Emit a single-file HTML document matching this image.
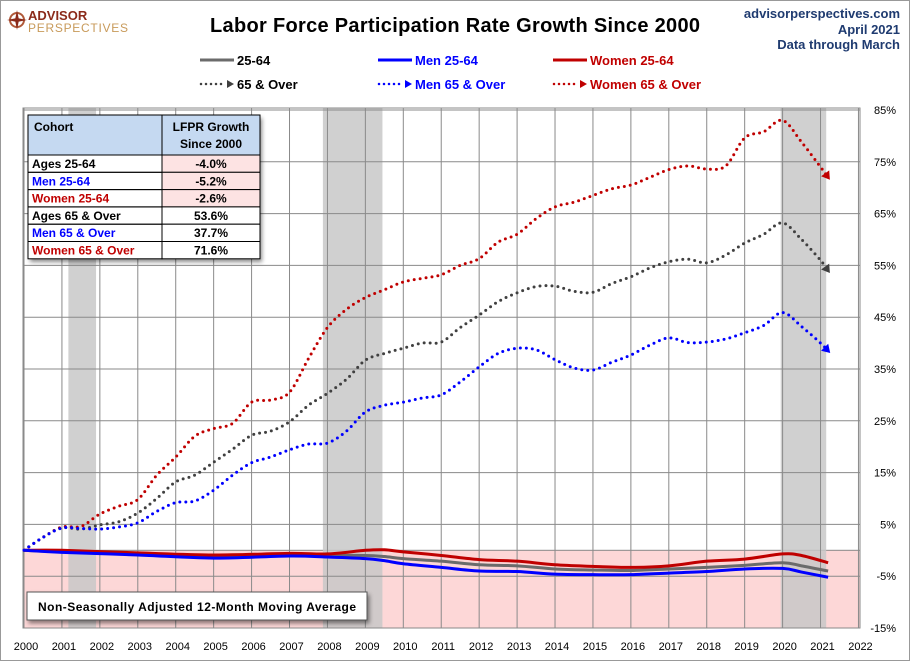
<!DOCTYPE html>
<html><head><meta charset="utf-8"><style>
body{margin:0;background:#fff}
svg text{font-family:"Liberation Sans",sans-serif}
</style></head><body>
<svg id="chart" width="910" height="661" viewBox="0 0 910 661" xmlns="http://www.w3.org/2000/svg">
<defs>
<filter id="sh" x="-10%" y="-10%" width="130%" height="140%"><feDropShadow dx="2" dy="3" stdDeviation="2" flood-color="#000" flood-opacity="0.45"/></filter>
</defs>
<rect x="0.5" y="0.5" width="909" height="660" fill="#fff" stroke="#999"/>
<g id="plot"></g>
<g>
<circle cx="17" cy="20" r="7" fill="none" stroke="#b05a3a" stroke-width="2"/>
<path d="M17 10 L19 20 L17 30 L15 20 Z M7 20 L17 18 L27 20 L17 22 Z" fill="#8b2a1a"/>
<text x="28" y="20" font-size="13" font-weight="bold" fill="#8b2a1a">ADVISOR</text>
<text x="28" y="32" font-size="12" fill="#c89a5a" textLength="100">PERSPECTIVES</text>
</g>
<text x="455" y="32" font-size="20" font-weight="bold" text-anchor="middle" fill="#000" textLength="490">Labor Force Participation Rate Growth Since 2000</text>
<g font-size="13" font-weight="bold" fill="#1f3b70" text-anchor="end">
<text x="900" y="18">advisorperspectives.com</text>
<text x="900" y="34">April 2021</text>
<text x="900" y="49">Data through March</text>
</g>
<g id="legend" font-size="13" font-weight="bold">
<g><line x1="200" y1="60" x2="234" y2="60" stroke="#6b6b6b" stroke-width="3"/><text x="237" y="65" fill="#000">25-64</text></g>
<g><line x1="378" y1="60" x2="412" y2="60" stroke="#0000ff" stroke-width="3"/><text x="415" y="65" fill="#0000ff">Men 25-64</text></g>
<g><line x1="553" y1="60" x2="587" y2="60" stroke="#c00000" stroke-width="3"/><text x="590" y="65" fill="#c00000">Women 25-64</text></g>
<g><line x1="201" y1="84" x2="226" y2="84" stroke="#404040" stroke-width="2.5" stroke-dasharray="0 5" stroke-linecap="round"/><path d="M227 80 L234 84 L227 88Z" fill="#404040"/><text x="237" y="89" fill="#000">65 &amp; Over</text></g>
<g><line x1="379" y1="84" x2="404" y2="84" stroke="#0000ff" stroke-width="2.5" stroke-dasharray="0 5" stroke-linecap="round"/><path d="M405 80 L412 84 L405 88Z" fill="#0000ff"/><text x="415" y="89" fill="#0000ff">Men 65 &amp; Over</text></g>
<g><line x1="554" y1="84" x2="579" y2="84" stroke="#c00000" stroke-width="2.5" stroke-dasharray="0 5" stroke-linecap="round"/><path d="M580 80 L587 84 L580 88Z" fill="#c00000"/><text x="590" y="89" fill="#c00000">Women 65 &amp; Over</text></g>
</g>
<g id="table" font-size="12" font-weight="bold">
<rect x="28" y="115" width="232" height="144" fill="#fff" filter="url(#sh)"/>
<rect x="28" y="115" width="232" height="40" fill="#c5d9f1" stroke="#000"/>
<line x1="162" y1="115" x2="162" y2="259" stroke="#000"/>
<text x="34" y="131" fill="#000">Cohort</text>
<text x="211" y="131" text-anchor="middle" fill="#000">LFPR Growth</text>
<text x="211" y="148" text-anchor="middle" fill="#000">Since 2000</text>
</g>
<g>
<rect x="27" y="592" width="340" height="28" fill="#fff" stroke="#555" filter="url(#sh)"/>
<text x="197" y="611" font-size="12" font-weight="bold" text-anchor="middle" textLength="318" fill="#000">Non-Seasonally Adjusted 12-Month Moving Average</text>
</g>
</svg>
<script>
const years = [2000,2001,2002,2003,2004,2005,2006,2007,2008,2009,2010,2011,2012,2013,2014,2015,2016,2017,2018,2019,2020,2021,2022];
const yTicks = [85,75,65,55,45,35,25,15,5,-5,-15];
const recessions = [[2001.17,2001.9],[2007.88,2009.45],[2019.95,2021.15]];
const tHalf = [2000,2000.5,2001,2001.5,2002,2002.5,2003,2003.5,2004,2004.5,2005,2005.5,2006,2006.5,2007,2007.5,2008,2008.5,2009,2009.5,2010,2010.5,2011,2011.5,2012,2012.5,2013,2013.5,2014,2014.5,2015,2015.5,2016,2016.5,2017,2017.5,2018,2018.5,2019,2019.5,2020,2020.5,2021,2021.2];
const women65 = [0,2.5,4.5,4.6,7,8.5,9.8,14.5,18,22,23.5,24.5,28.6,29,30.5,37,43,46.5,48.8,50.3,51.8,52.5,53.2,55,56.3,59.5,61,64,66.3,67.2,68.5,69.8,70.5,72,73.5,74.2,73.6,74.2,79.6,80.8,83,78.8,74,72];
const all65 = [0,2.5,4.3,4.1,4.9,5.5,7.2,10,13.2,14.5,17,19.5,22.2,23,24.8,28,30.3,33,36.7,38,39,40,40.2,43,45.4,48,49.7,50.9,51,50,49.8,51.5,52.8,54.5,55.7,56.2,55.5,57,59.3,61,63.2,60,56,54];
const men65 = [0,2.5,4.3,4.2,4.1,4.5,5.3,7.5,9.2,9.5,11.6,14.5,16.9,18,19.4,20.5,20.7,23,26.7,28,28.6,29.4,30,32.5,35.4,38,39,38.7,36.8,35.2,34.8,36.3,37.7,39.6,41,40.1,40.2,40.8,42,43.4,45.9,43.2,40,38.5];
const tYear = [2000,2001,2003,2005,2007,2008,2009,2009.5,2010,2011,2012,2013,2014,2015,2016,2017,2018,2019,2020,2020.5,2021.2];
const women2564 = [0,0,-0.5,-0.9,-0.6,-0.7,0,0.1,-0.3,-1.0,-1.8,-2.1,-2.8,-3.1,-3.3,-3.0,-2.1,-1.7,-0.7,-1.0,-2.4];
const all2564 = [0,-0.3,-0.7,-1.2,-0.9,-1.0,-1.0,-1.2,-1.6,-2.1,-2.8,-3.0,-3.6,-3.8,-3.9,-3.6,-3.3,-2.9,-2.4,-3.0,-4.0];
const men2564 = [0,-0.4,-0.9,-1.5,-1.1,-1.3,-1.6,-2.0,-2.6,-3.3,-4.0,-4.1,-4.6,-4.7,-4.7,-4.4,-4.1,-3.6,-3.5,-4.2,-5.2];
const cohorts = ["Ages 25-64","Men 25-64","Women 25-64","Ages 65  & Over","Men 65  & Over","Women 65 & Over"];
const growth = ["-4.0%","-5.2%","-2.6%","53.6%","37.7%","71.6%"];
const cohortColors = ["#000","#0000ff","#c00000","#000","#0000ff","#c00000"];

const NS="http://www.w3.org/2000/svg";
const L=23,R=860,T=108,B=628;
const x = t => 24 + (t-2000)*37.93;
const y = v => 550.3 - v*5.18;
function mk(tag,attrs,parent){const e=document.createElementNS(NS,tag);for(const k in attrs)e.setAttribute(k,attrs[k]);parent.appendChild(e);return e;}
const plot=document.getElementById('plot');
const bg=mk('rect',{x:L,y:T,width:R-L,height:B-T,fill:'#fff'},plot);


const neg=mk('rect',{x:L,y:y(0),width:R-L,height:B-y(0),fill:'#fdd7d7',stroke:'#888','stroke-width':1},plot);


recessions.forEach(r=>{
  const e=mk('rect',{x:x(r[0]),y:T,width:x(r[1])-x(r[0]),height:B-T,fill:'#c8c8c8','fill-opacity':0.85},plot);
  
  
});
years.forEach(yr=>{
  const g=mk('line',{x1:x(yr),x2:x(yr),y1:T,y2:B,stroke:'#8a8a8a','stroke-width':1},plot);
  
  
  const t=mk('text',{x:x(yr)+2,y:650,'font-size':11,'text-anchor':'middle',fill:'#000'},plot);
  t.textContent=yr;
  
  
});
yTicks.forEach(v=>{
  const g=mk('line',{x1:L,x2:R,y1:y(v),y2:y(v),stroke:'#8a8a8a','stroke-width':1},plot);
  
  
  const t=mk('text',{x:896,y:y(v)+4,'font-size':11,'text-anchor':'end',fill:'#000'},plot);
  t.textContent=v+'%';
  
  
});
mk('rect',{x:L,y:T,width:R-L,height:B-T,fill:'none',stroke:'#8a8a8a'},plot);
function pathD(ts,vs){
  const p=ts.map((t,i)=>[x(t),y(vs[i])]);
  let d='M'+p[0][0]+' '+p[0][1];
  for(let i=0;i<p.length-1;i++){
    const p0=p[Math.max(0,i-1)],p1=p[i],p2=p[i+1],p3=p[Math.min(p.length-1,i+2)];
    const c1=[p1[0]+(p2[0]-p0[0])/6,p1[1]+(p2[1]-p0[1])/6];
    const c2=[p2[0]-(p3[0]-p1[0])/6,p2[1]-(p3[1]-p1[1])/6];
    d+=` C${c1[0]} ${c1[1]} ${c2[0]} ${c2[1]} ${p2[0]} ${p2[1]}`;
  }
  return d;
}
function solid(ts,vs,color,name){
  const e=mk('path',{d:pathD(ts,vs),fill:'none',stroke:color,'stroke-width':3,'stroke-linejoin':'round'},plot);
  
  
}
function dotted(ts,vs,color,name){
  const e=mk('path',{d:pathD(ts,vs),fill:'none',stroke:color,'stroke-width':3,'stroke-dasharray':'0 6','stroke-linecap':'round'},plot);
  
  
  const n=ts.length;
  const x1=x(ts[n-2]),y1=y(vs[n-2]),x2=x(ts[n-1]),y2=y(vs[n-1]);
  const a=Math.atan2(y2-y1,x2-x1),s=8;
  const tip=[x2+Math.cos(a)*3,y2+Math.sin(a)*3];
  const b1=[tip[0]-s*Math.cos(a)+5*Math.sin(a),tip[1]-s*Math.sin(a)-5*Math.cos(a)];
  const b2=[tip[0]-s*Math.cos(a)-5*Math.sin(a),tip[1]-s*Math.sin(a)+5*Math.cos(a)];
  const ar=mk('path',{d:`M${tip[0]} ${tip[1]} L${b1[0]} ${b1[1]} L${b2[0]} ${b2[1]}Z`,fill:color},plot);
  
  
}
solid(tYear,all2564,'#6b6b6b','line-ages-25-64');
solid(tYear,women2564,'#c00000','line-women-25-64');
solid(tYear,men2564,'#0000ff','line-men-25-64');
dotted(tHalf,women65,'#c00000','line-women-65-over');
dotted(tHalf,all65,'#404040','line-ages-65-over');
dotted(tHalf,men65,'#0000ff','line-men-65-over');
// table rows
const tbl=document.getElementById('table');
cohorts.forEach((c,i)=>{
  const ry=155+i*17.3;
  const cell=mk('rect',{x:162,y:ry,width:98,height:17.3,fill:i<3?'#fde3e3':'#fff',stroke:'#000'},tbl);
  mk('rect',{x:28,y:ry,width:134,height:17.3,fill:'none',stroke:'#000'},tbl);
  const t=mk('text',{x:32,y:ry+13,fill:cohortColors[i]},tbl);
  t.textContent=c;
  
  
  const v=mk('text',{x:211,y:ry+13,'text-anchor':'middle',fill:'#000'},tbl);
  v.textContent=growth[i];
  
  
});
</script>
</body></html>
